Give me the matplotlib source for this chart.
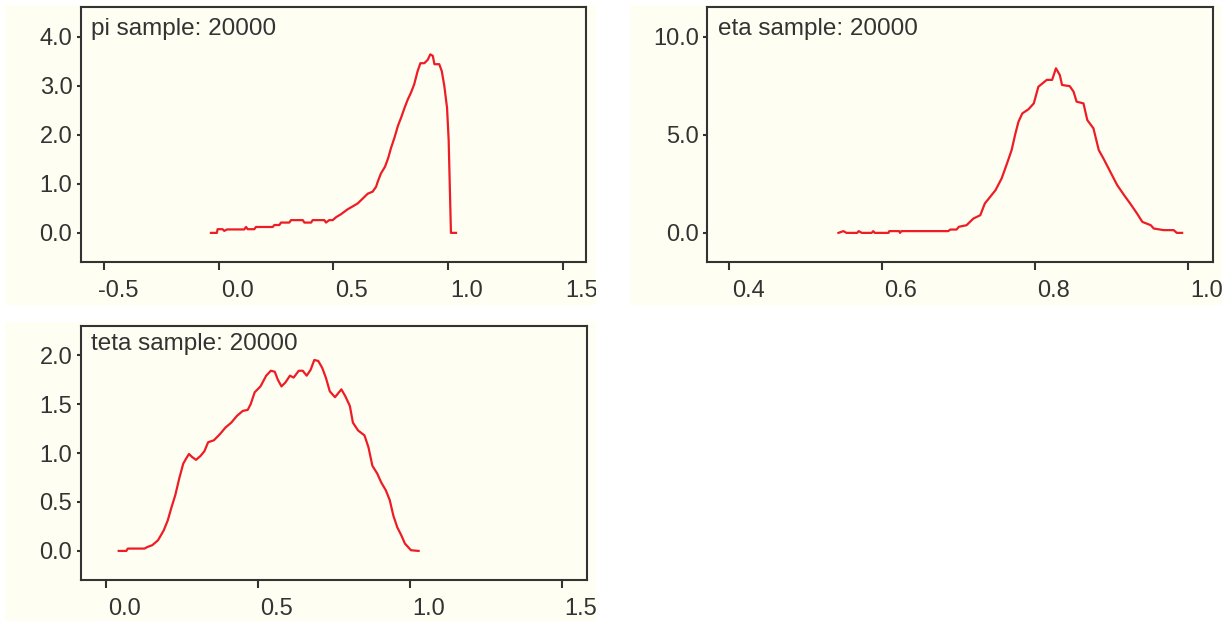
import numpy as np
import matplotlib
matplotlib.use('Agg')
import matplotlib.pyplot as plt
from matplotlib.patches import Rectangle
from matplotlib.transforms import ScaledTranslation

plt.rcParams['font.family'] = ['Liberation Sans', 'DejaVu Sans']

# pi density
pi_x = [-0.033, -0.007, -0.004, 0.018, 0.025, 0.037, 0.112, 0.12, 0.127, 0.156, 0.163, 0.236,
        0.243, 0.265, 0.272, 0.308, 0.316, 0.367, 0.374, 0.403, 0.41, 0.461, 0.468, 0.482,
        0.497, 0.512, 0.533, 0.562, 0.584, 0.606, 0.628, 0.65, 0.671, 0.686, 0.693, 0.707,
        0.725, 0.739, 0.751, 0.766, 0.781, 0.795, 0.81, 0.824, 0.838, 0.852, 0.867, 0.879,
        0.896, 0.911, 0.922, 0.933, 0.94, 0.961, 0.972, 0.983, 0.995, 1.002, 1.012, 1.034]
pi_y = [0.0, 0.0, 0.075, 0.075, 0.04, 0.07, 0.07, 0.12, 0.075, 0.075, 0.12, 0.12,
        0.16, 0.16, 0.21, 0.21, 0.26, 0.26, 0.21, 0.21, 0.26, 0.26, 0.21, 0.26,
        0.26, 0.32, 0.38, 0.48, 0.54, 0.6, 0.7, 0.8, 0.84, 0.94, 1.04, 1.21,
        1.35, 1.53, 1.73, 1.94, 2.18, 2.35, 2.55, 2.72, 2.86, 3.03, 3.3, 3.46,
        3.46, 3.53, 3.64, 3.61, 3.44, 3.44, 3.3, 3.0, 2.55, 1.9, 0.0, 0.0]

# eta density
eta_x = [0.5425, 0.549, 0.553, 0.567, 0.569, 0.573, 0.586, 0.588, 0.59, 0.608, 0.609, 0.622,
         0.623, 0.625, 0.686, 0.689, 0.697, 0.7, 0.71, 0.719, 0.728, 0.734, 0.741, 0.748,
         0.756, 0.763, 0.769, 0.774, 0.778, 0.783, 0.791, 0.798, 0.804, 0.815, 0.822, 0.827,
         0.832, 0.835, 0.845, 0.85, 0.854, 0.863, 0.868, 0.876, 0.883, 0.889, 0.898, 0.907,
         0.916, 0.924, 0.933, 0.94, 0.951, 0.955, 0.968, 0.981, 0.985, 0.992]
eta_y = [0.0, 0.09, 0.0, 0.0, 0.09, 0.0, 0.0, 0.09, 0.0, 0.0, 0.09, 0.09,
         0.0, 0.09, 0.09, 0.17, 0.17, 0.31, 0.39, 0.73, 0.9, 1.5, 1.84, 2.18,
         2.78, 3.54, 4.22, 5.07, 5.67, 6.09, 6.3, 6.6, 7.45, 7.8, 7.8, 8.39,
         8.05, 7.54, 7.48, 7.2, 6.69, 6.6, 5.75, 5.33, 4.22, 3.8, 3.12, 2.44,
         1.93, 1.5, 0.99, 0.56, 0.39, 0.22, 0.14, 0.14, 0.0, 0.0]

# teta density
teta_x = [0.042, 0.067, 0.072, 0.127, 0.136, 0.152, 0.171, 0.19, 0.203, 0.216, 0.228, 0.241,
          0.254, 0.263, 0.273, 0.283, 0.296, 0.311, 0.324, 0.336, 0.355, 0.374, 0.393, 0.412,
          0.431, 0.45, 0.466, 0.476, 0.489, 0.508, 0.527, 0.542, 0.555, 0.565, 0.577, 0.59,
          0.605, 0.617, 0.634, 0.647, 0.66, 0.673, 0.685, 0.698, 0.711, 0.723, 0.736, 0.753,
          0.761, 0.774, 0.787, 0.802, 0.812, 0.829, 0.85, 0.863, 0.876, 0.892, 0.905, 0.92,
          0.933, 0.945, 0.958, 0.971, 0.983, 1.003, 1.028]
teta_y = [0.0, 0.0, 0.024, 0.024, 0.04, 0.058, 0.108, 0.21, 0.31, 0.45, 0.57, 0.74,
          0.89, 0.94, 0.99, 0.96, 0.93, 0.97, 1.02, 1.11, 1.13, 1.19, 1.26, 1.31,
          1.38, 1.43, 1.44, 1.5, 1.62, 1.68, 1.79, 1.84, 1.83, 1.75, 1.68, 1.72,
          1.79, 1.77, 1.84, 1.84, 1.79, 1.85, 1.95, 1.94, 1.87, 1.77, 1.63, 1.57,
          1.6, 1.65, 1.58, 1.48, 1.31, 1.23, 1.18, 1.06, 0.87, 0.79, 0.70, 0.62,
          0.52, 0.36, 0.24, 0.16, 0.075, 0.007, 0.0]

titles = ['pi sample: 20000', 'eta sample: 20000', 'teta sample: 20000']
pi_ticks = [-0.5, 0.0, 0.5, 1.0, 1.5]
eta_ticks = [0.4, 0.6, 0.8, 1.0]
teta_ticks = [0.0, 0.5, 1.0, 1.5]
pi_yticks = [0.0, 1.0, 2.0, 3.0, 4.0]
eta_yticks = [0.0, 5.0, 10.0]
teta_yticks = [0.0, 0.5, 1.0, 1.5, 2.0]

IVORY = '#fefef2'
RED = '#ee1c25'
INK = '#333333'
W, H = 1230, 621

fig = plt.figure(figsize=(12.3, 6.21), dpi=100, facecolor='white')


def box(x0, y0, x1, y1):
    return [x0 / W, 1 - y1 / H, (x1 - x0) / W, (y1 - y0) / H]


panels = [
    (pi_x, pi_y, titles[0], pi_ticks, pi_yticks, (-0.6, 1.6), (-0.6, 4.6),
     (5, 5, 596, 305), (80.7, 7.3, 586, 262.3), 27.7),
    (eta_x, eta_y, titles[1], eta_ticks, eta_yticks, (0.371, 1.032), (-1.5, 11.5),
     (630, 5, 1222, 305), (707.3, 7.3, 1212.7, 262.3), 27.7),
    (teta_x, teta_y, titles[2], teta_ticks, teta_yticks, (-0.083, 1.58), (-0.3, 2.3),
     (5, 322, 596, 621), (80.7, 325.7, 586.5, 580.3), 24.0),
]

for xs, ys, title, xt, yt, xl, yl, bgb, axb, tdy in panels:
    b = box(*bgb)
    bg = Rectangle(b[:2], b[2], b[3], transform=fig.transFigure,
                   facecolor=IVORY, edgecolor='none', zorder=0)
    fig.add_artist(bg)
    ax = fig.add_axes(box(*axb))
    ax.set_facecolor(IVORY)
    ax.plot(xs, ys, color=RED, lw=1.6)
    ax.set_xlim(*xl)
    ax.set_ylim(*yl)
    for s in ax.spines.values():
        s.set_color(INK)
        s.set_linewidth(1.5)
    ax.tick_params(axis='x', length=5.5, width=1.5, color=INK, pad=7.5,
                   labelsize=17, labelcolor=INK)
    ax.tick_params(axis='y', length=3, width=1.5, color=INK, pad=3,
                   labelsize=17, labelcolor=INK)
    ax.set_xticks(xt)
    ax.set_xticklabels(['%.1f' % v for v in xt])
    ax.set_yticks(yt)
    ax.set_yticklabels(['%.1f' % v for v in yt])
    shift = ScaledTranslation(0.35, 0, fig.dpi_scale_trans)
    for lab in ax.get_xticklabels():
        lab.set_ha('right')
        lab.set_transform(lab.get_transform() + shift)
        lab.set_clip_path(bg)
    for lab in ax.get_yticklabels():
        lab.set_clip_path(bg)
    ax.annotate(title, xy=(0, 1), xycoords='axes fraction',
                xytext=(7.5, -tdy * 0.72), textcoords='offset points',
                ha='left', va='baseline', fontsize=17.5, color=INK)

fig.savefig('out.png', dpi=100, facecolor='white')
